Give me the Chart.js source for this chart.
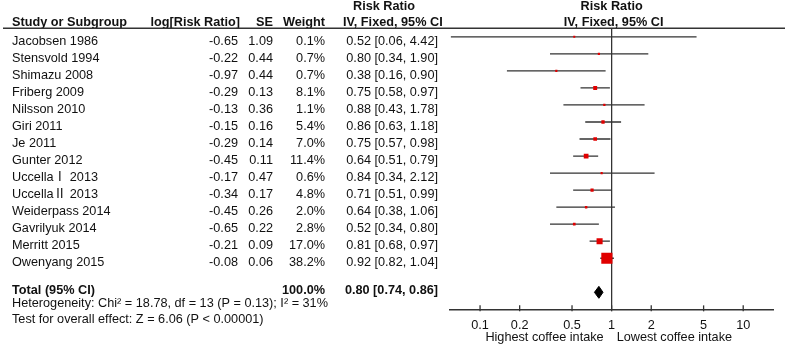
<!DOCTYPE html>
<html>
<head>
<meta charset="utf-8">
<script src="https://cdn.jsdelivr.net/npm/chart.js@4.4.1/dist/chart.umd.min.js"></script>
<style>
  html, body { margin: 0; padding: 0; background: #fff; }
  #wrap { position: relative; width: 787px; height: 347px; }
</style>
</head>
<body>
<div id="wrap"><canvas id="forest"></canvas></div>
<script>
// study data
const studies = ['Jacobsen 1986', 'Stensvold 1994', 'Shimazu 2008', 'Friberg 2009', 'Nilsson 2010',
  'Giri 2011', 'Je 2011', 'Gunter 2012', 'UccellaⅠ 2013', 'UccellaⅡ 2013', 'Weiderpass 2014',
  'Gavrilyuk 2014', 'Merritt 2015', 'Owenyang 2015'];
const logRR = [-0.65, -0.22, -0.97, -0.29, -0.13, -0.15, -0.29, -0.45, -0.17, -0.34, -0.45, -0.65, -0.21, -0.08];
const se = [1.09, 0.44, 0.44, 0.13, 0.36, 0.16, 0.14, 0.11, 0.47, 0.17, 0.26, 0.22, 0.09, 0.06];
const weight = [0.1, 0.7, 0.7, 8.1, 1.1, 5.4, 7.0, 11.4, 0.6, 4.8, 2.0, 2.8, 17.0, 38.2];
const rr = [0.52, 0.80, 0.38, 0.75, 0.88, 0.86, 0.75, 0.64, 0.84, 0.71, 0.64, 0.52, 0.81, 0.92];
const lower = [0.06, 0.34, 0.16, 0.58, 0.43, 0.63, 0.57, 0.51, 0.34, 0.51, 0.38, 0.34, 0.68, 0.82];
const upper = [4.42, 1.90, 0.90, 0.97, 1.78, 1.18, 0.98, 0.79, 2.12, 0.99, 1.06, 0.80, 0.97, 1.04];

const totalRR = 0.80;
const totalCI = [0.74, 0.86];
const totalWeight = 100.0;
const heterogeneity = 'Heterogeneity: Chi² = 18.78, df = 13 (P = 0.13); I² = 31%';
const overallTest = 'Test for overall effect: Z = 6.06 (P < 0.00001)';

const xTicks = [0.1, 0.2, 0.5, 1, 2, 5, 10];
const leftLabel = 'Highest coffee intake';
const rightLabel = 'Lowest coffee intake';

// row layout (in y-scale units)
const totalRow = 15;
const yMin = -0.5, yMax = 16;

const FONT = '"Liberation Sans", Arial, "Noto Sans CJK SC", sans-serif';
const FS = 12.7;
const font = (bold) => (bold ? 'bold ' : '') + FS + 'px ' + FONT;

// build datasets from the arrays
const ciLines = [];
lower.forEach((lo, i) => {
  ciLines.push({ x: lo, y: i }, { x: upper[i], y: i }, { x: null, y: null });
});
const points = rr.map((v, i) => ({ x: v, y: i }));
const diamondH = 0.35;
const diamond = [
  { x: totalCI[0], y: totalRow },
  { x: totalRR, y: totalRow - diamondH },
  { x: totalCI[1], y: totalRow },
  { x: totalRR, y: totalRow + diamondH },
  { x: totalCI[0], y: totalRow }
];

const tablePlugin = {
  id: 'table',
  afterDraw(chart) {
    const ctx = chart.ctx;
    const xs = chart.scales.x, ys = chart.scales.y;
    const area = chart.chartArea;
    const put = (txt, px, py, align, bold) => {
      ctx.font = font(bold);
      ctx.textAlign = align;
      ctx.fillText(txt, px, py);
    };
    ctx.save();
    ctx.fillStyle = '#111';
    ctx.textBaseline = 'middle';

    // header
    const h1 = area.top - 21.5, h2 = area.top - 5.8;
    const one = xs.getPixelForValue(1);
    put('Risk Ratio', 353, h1, 'left', true);
    put('Risk Ratio', one, h1, 'center', true);
    put('Study or Subgroup', 12, h2, 'left', true);
    put('log[Risk Ratio]', 240, h2, 'right', true);
    put('SE', 273, h2, 'right', true);
    put('Weight', 325, h2, 'right', true);
    put('IV, Fixed, 95% CI', 343, h2, 'left', true);
    put('IV, Fixed, 95% CI', one + 2, h2, 'center', true);

    ctx.strokeStyle = '#333';
    ctx.lineWidth = 1.5;
    ctx.beginPath();
    ctx.moveTo(3, area.top);
    ctx.lineTo(785, area.top);
    ctx.stroke();

    // study rows
    studies.forEach((name, i) => {
      const py = ys.getPixelForValue(i) + 4.5;
      put(name, 12, py, 'left', false);
      put(logRR[i].toFixed(2), 238, py, 'right', false);
      put(se[i].toFixed(2), 273, py, 'right', false);
      put(weight[i].toFixed(1) + '%', 325, py, 'right', false);
      put(rr[i].toFixed(2) + ' [' + lower[i].toFixed(2) + ', ' + upper[i].toFixed(2) + ']', 438, py, 'right', false);
    });

    // total rows
    const ty = ys.getPixelForValue(totalRow) - 2;
    put('Total (95% CI)', 12, ty, 'left', true);
    put(totalWeight.toFixed(1) + '%', 325, ty, 'right', true);
    put(totalRR.toFixed(2) + ' [' + totalCI[0].toFixed(2) + ', ' + totalCI[1].toFixed(2) + ']', 438, ty, 'right', true);
    put(heterogeneity, 12, ty + 13.5, 'left', false);
    put(overallTest, 12, ty + 29.5, 'left', false);

    // tick marks crossing the axis
    ctx.strokeStyle = '#333';
    ctx.lineWidth = 1.3;
    xs.ticks.forEach(t => {
      const px = xs.getPixelForValue(t.value);
      ctx.beginPath();
      ctx.moveTo(px, area.bottom - 4);
      ctx.lineTo(px, area.bottom + 2);
      ctx.stroke();
    });

    // direction labels
    const fy = area.bottom + 28.5;
    put(leftLabel, one - 8, fy, 'right', false);
    put(rightLabel, one + 5, fy, 'left', false);
    ctx.restore();
  }
};

new Chart(document.getElementById('forest'), {
  type: 'line',
  data: {
    datasets: [
      {
        label: 'Risk ratio',
        data: points,
        showLine: false,
        pointStyle: 'rect',
        backgroundColor: '#e00000',
        borderWidth: 0,
        pointRadius: (c) => (2 + weight[c.dataIndex] * 0.24) / Math.SQRT2
      },
      {
        label: 'Total',
        data: diamond,
        borderColor: '#000',
        backgroundColor: '#000',
        borderWidth: 1,
        pointRadius: 0,
        fill: 'shape'
      },
      {
        label: '95% CI',
        data: ciLines,
        borderColor: '#333',
        borderWidth: 1.3,
        pointRadius: 0,
        spanGaps: false
      },
      {
        label: 'no effect',
        data: [{ x: 1, y: yMin }, { x: 1, y: yMax }],
        borderColor: '#333',
        borderWidth: 1.3,
        pointRadius: 0
      }
    ]
  },
  options: {
    responsive: true,
    maintainAspectRatio: false,
    animation: false,
    events: [],
    layout: { padding: { left: 450, right: 13.7, top: 28.3, bottom: 4.4 } },
    plugins: { legend: { display: false }, tooltip: { enabled: false } },
    scales: {
      x: {
        type: 'logarithmic',
        min: 0.0591,
        max: 16.93,
        afterBuildTicks: (s) => { s.ticks = xTicks.map(v => ({ value: v })); },
        grid: { display: false, drawTicks: false },
        border: { display: true, color: '#333', width: 1.5 },
        ticks: {
          padding: 9,
          color: '#111',
          font: { family: FONT, size: FS },
          maxRotation: 0,
          autoSkip: false,
          callback: (v) => String(v)
        }
      },
      y: {
        type: 'linear',
        reverse: true,
        min: yMin,
        max: yMax,
        display: false
      }
    }
  },
  plugins: [tablePlugin]
});
</script>
</body>
</html>
